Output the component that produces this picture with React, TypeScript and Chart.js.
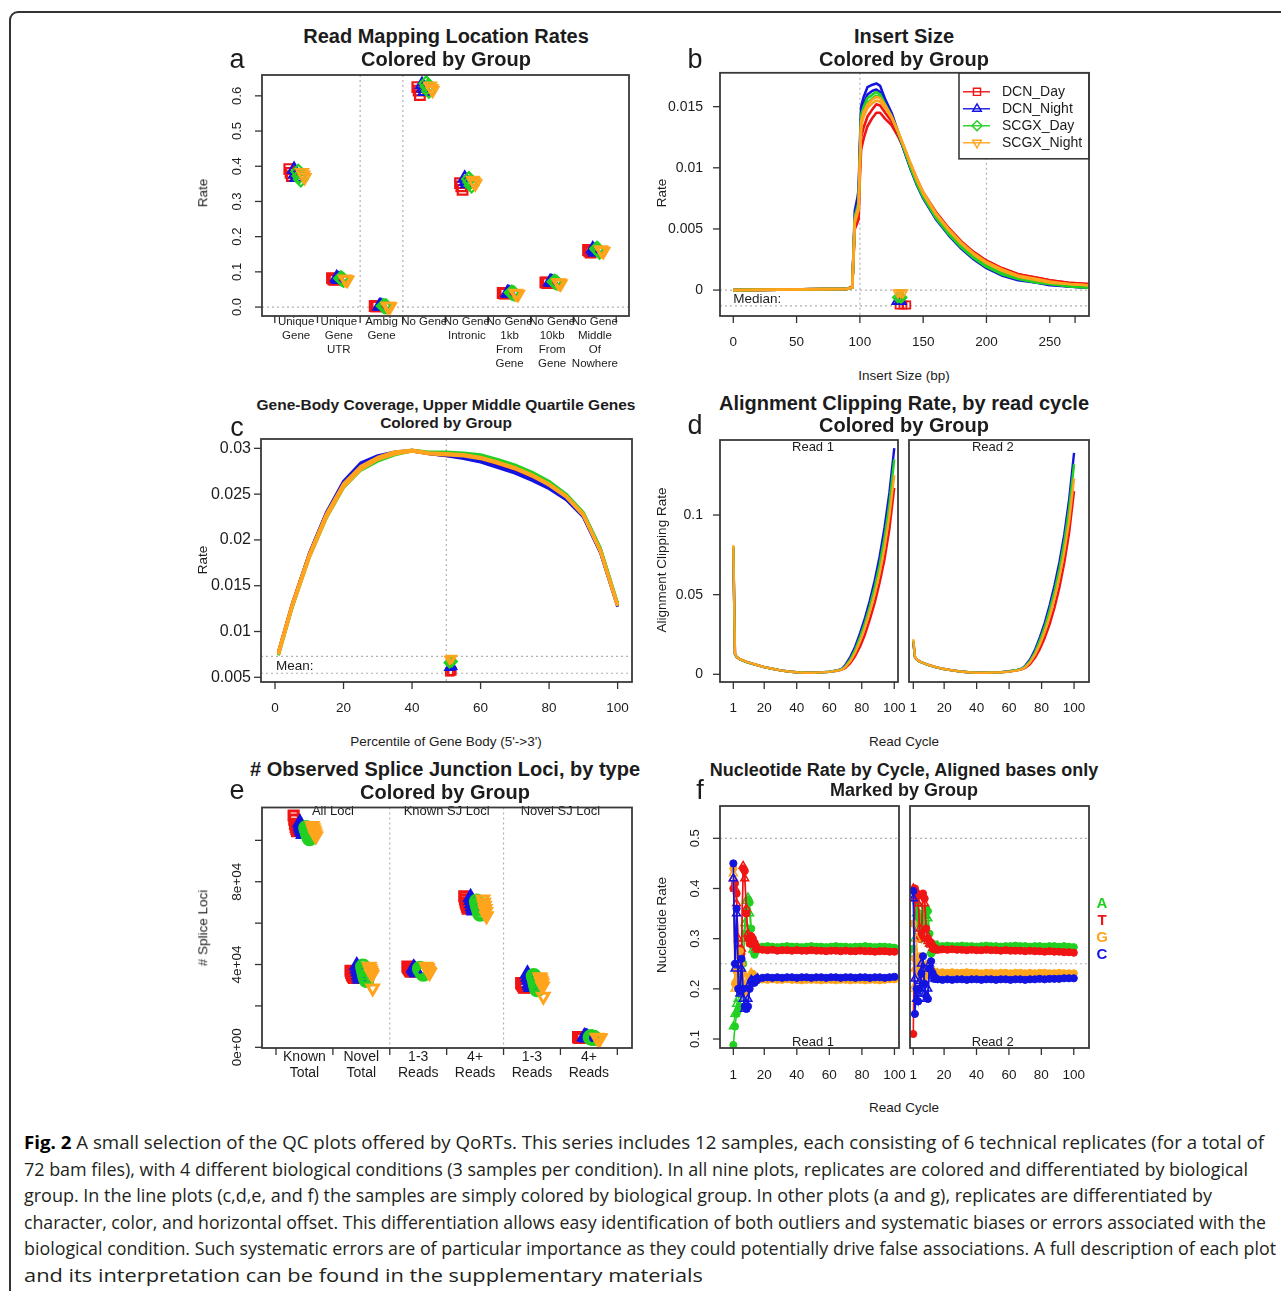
import React, { useEffect, useLayoutEffect, useRef } from "react";
import { Chart, registerables } from "chart.js";

Chart.register(...registerables);

const FONT = "'Liberation Sans', Arial, Helvetica, sans-serif";
const TEXT = "#1c1c1c";
const RED = "#F01414";
const BLUE = "#1414E0";
const GREEN = "#22D022";
const ORANGE = "#FFA41C";

const groupNames = ["DCN_Day", "DCN_Night", "SCGX_Day", "SCGX_Night"];
const groupColors = [RED, BLUE, GREEN, ORANGE];
const groupStyles = ["rect", "triangle", "rectRot", "triangle"];
const groupRotations = [0, 0, 0, 180];

// ---------------- Panel a : read mapping location rates ----------------
const aCategoryLabels = [
  ["Unique", "Gene"],
  ["Unique", "Gene", "UTR"],
  ["Ambig", "Gene"],
  ["No Gene"],
  ["No Gene", "Intronic"],
  ["No Gene", "1kb", "From", "Gene"],
  ["No Gene", "10kb", "From", "Gene"],
  ["No Gene", "Middle", "Of", "Nowhere"],
];
const aDcnDay = [[0.392, 0.381, 0.372], [0.082, 0.079, 0.077], [0.003, 0.002, 0.002], [0.625, 0.615, 0.602], [0.352, 0.343, 0.333], [0.040, 0.039, 0.038], [0.070, 0.069, 0.068], [0.162, 0.158, 0.155]];
const aDcnNight = [[0.391, 0.378, 0.368], [0.083, 0.080, 0.078], [0.003, 0.003, 0.002], [0.632, 0.622, 0.612], [0.366, 0.357, 0.350], [0.041, 0.040, 0.039], [0.072, 0.071, 0.070], [0.165, 0.160, 0.156]];
const aScgxDay = [[0.385, 0.372, 0.362], [0.082, 0.079, 0.077], [0.003, 0.002, 0.002], [0.636, 0.626, 0.614], [0.364, 0.355, 0.345], [0.041, 0.040, 0.038], [0.072, 0.071, 0.069], [0.166, 0.162, 0.157]];
const aScgxNight = [[0.382, 0.375, 0.368], [0.080, 0.078, 0.076], [0.002, 0.002, 0.001], [0.628, 0.621, 0.616], [0.360, 0.355, 0.350], [0.039, 0.038, 0.036], [0.069, 0.068, 0.066], [0.163, 0.160, 0.158]];
const aSampleOffsets = [[-0.16, -0.13, -0.10], [-0.05, -0.02, 0.01], [0.05, 0.08, 0.11], [0.14, 0.17, 0.20]];
const aYTicks = [0, 0.1, 0.2, 0.3, 0.4, 0.5, 0.6];
const aYTickLabels = ["0.0", "0.1", "0.2", "0.3", "0.4", "0.5", "0.6"];
const aXBounds = [-0.5, 0.5, 1.5, 2.5, 3.5, 4.5, 5.5, 6.5, 7.5];
const aXCenters = [0, 1, 2, 3, 4, 5, 6, 7];

// ---------------- Panel b : insert size ----------------
const bInsertSize = [0, 90, 94, 96, 98, 99, 100, 101, 103, 106, 110, 113, 116, 120, 125, 130, 135, 140, 145, 150, 160, 170, 180, 190, 200, 212, 225, 240, 250, 265, 280, 300];
const bDcnDay1 = [0, 0.0001, 0.0003, 0.0050, 0.0055, 0.0058, 0.0092, 0.0115, 0.0124, 0.0134, 0.0141, 0.0145, 0.0145, 0.0140, 0.0135, 0.0126, 0.0115, 0.0102, 0.0090, 0.0079, 0.0063, 0.0050, 0.0039, 0.0031, 0.0024, 0.0018, 0.0013, 0.0010, 0.0008, 0.0006, 0.0005, 0.0004];
const bDcnDay2 = [0, 0.0001, 0.0003, 0.0054, 0.0060, 0.0063, 0.0100, 0.0125, 0.0133, 0.0142, 0.0148, 0.0152, 0.0151, 0.0145, 0.0138, 0.0128, 0.0116, 0.0103, 0.0091, 0.0080, 0.0064, 0.0051, 0.0040, 0.0031, 0.0024, 0.0018, 0.0013, 0.0010, 0.0008, 0.0006, 0.0005, 0.0004];
const bDcnNight1 = [0, 0.0001, 0.0002, 0.0065, 0.0075, 0.0082, 0.0120, 0.0150, 0.0158, 0.0166, 0.0168, 0.0169, 0.0167, 0.0156, 0.0145, 0.0130, 0.0114, 0.0099, 0.0086, 0.0075, 0.0058, 0.0045, 0.0034, 0.0025, 0.0018, 0.0012, 0.0008, 0.0006, 0.0004, 0.0003, 0.0002, 0.0001];
const bDcnNight2 = [0, 0.0001, 0.0002, 0.0060, 0.0070, 0.0076, 0.0114, 0.0144, 0.0152, 0.0160, 0.0163, 0.0164, 0.0162, 0.0153, 0.0143, 0.0129, 0.0114, 0.0100, 0.0087, 0.0076, 0.0059, 0.0046, 0.0035, 0.0026, 0.0019, 0.0013, 0.0009, 0.0006, 0.0005, 0.0003, 0.0002, 0.0001];
const bScgxDay1 = [0, 0.0001, 0.0002, 0.0060, 0.0068, 0.0072, 0.0110, 0.0143, 0.0150, 0.0157, 0.0160, 0.0162, 0.0160, 0.0152, 0.0142, 0.0129, 0.0115, 0.0100, 0.0087, 0.0076, 0.0059, 0.0046, 0.0035, 0.0026, 0.0019, 0.0013, 0.0009, 0.0006, 0.0005, 0.0003, 0.0002, 0.0001];
const bScgxDay2 = [0, 0.0001, 0.0002, 0.0056, 0.0064, 0.0068, 0.0106, 0.0138, 0.0146, 0.0153, 0.0157, 0.0159, 0.0158, 0.0151, 0.0142, 0.0130, 0.0116, 0.0102, 0.0089, 0.0078, 0.0061, 0.0047, 0.0036, 0.0027, 0.0020, 0.0014, 0.0010, 0.0007, 0.0005, 0.0004, 0.0003, 0.0002];
const bScgxNight1 = [0, 0.0001, 0.0002, 0.0058, 0.0065, 0.0068, 0.0105, 0.0138, 0.0146, 0.0152, 0.0156, 0.0158, 0.0157, 0.0151, 0.0142, 0.0130, 0.0117, 0.0103, 0.0090, 0.0079, 0.0062, 0.0049, 0.0038, 0.0029, 0.0022, 0.0016, 0.0011, 0.0008, 0.0006, 0.0005, 0.0004, 0.0003];
const bScgxNight2 = [0, 0.0001, 0.0002, 0.0055, 0.0062, 0.0066, 0.0102, 0.0134, 0.0142, 0.0149, 0.0153, 0.0155, 0.0154, 0.0149, 0.0141, 0.0130, 0.0117, 0.0104, 0.0091, 0.0080, 0.0063, 0.0050, 0.0039, 0.0030, 0.0023, 0.0017, 0.0012, 0.0009, 0.0007, 0.0005, 0.0004, 0.0003];
const bMedianDcnDay = [131, 134, 137];
const bMedianDcnNight = [129, 131, 133];
const bMedianScgxDay = [130, 132, 133];
const bMedianScgxNight = [130, 132, 134];
const bMedianRowY = [-0.00122, -0.00095, -0.0006, -0.00022];
const bYTicks = [0, 0.005, 0.01, 0.015];
const bYTickLabels = ["0", "0.005", "0.01", "0.015"];
const bXTicks = [0, 50, 100, 150, 200, 250, 270];
const bXTickLabels = ["0", "50", "100", "150", "200", "250", ""];

// ---------------- Panel c : gene body coverage ----------------
const cPercentile = [1, 5, 10, 15, 20, 25, 30, 35, 40, 45, 50, 55, 60, 65, 70, 75, 80, 85, 90, 95, 100];
const cDcnDay1 = [0.0075, 0.0127, 0.0182, 0.0226, 0.0260, 0.0280, 0.0290, 0.0294, 0.0297, 0.0294, 0.0292, 0.0290, 0.0287, 0.0281, 0.0275, 0.0267, 0.0258, 0.0245, 0.0226, 0.0187, 0.0128];
const cDcnDay2 = [0.0078, 0.0130, 0.0185, 0.0229, 0.0262, 0.0281, 0.0291, 0.0295, 0.0298, 0.0295, 0.0294, 0.0292, 0.0289, 0.0283, 0.0277, 0.0269, 0.0260, 0.0247, 0.0228, 0.0189, 0.0129];
const cDcnNight1 = [0.0076, 0.0128, 0.0184, 0.0229, 0.0263, 0.0283, 0.0291, 0.0295, 0.0297, 0.0294, 0.0292, 0.0289, 0.0285, 0.0279, 0.0273, 0.0265, 0.0256, 0.0244, 0.0225, 0.0186, 0.0127];
const cDcnNight2 = [0.0077, 0.0129, 0.0185, 0.0230, 0.0264, 0.0284, 0.0292, 0.0296, 0.0298, 0.0295, 0.0293, 0.0290, 0.0286, 0.0280, 0.0274, 0.0266, 0.0257, 0.0245, 0.0226, 0.0187, 0.0128];
const cScgxDay1 = [0.0074, 0.0126, 0.0181, 0.0224, 0.0257, 0.0276, 0.0286, 0.0293, 0.0297, 0.0295, 0.0295, 0.0294, 0.0292, 0.0287, 0.0281, 0.0273, 0.0263, 0.0249, 0.0229, 0.0190, 0.0130];
const cScgxDay2 = [0.0075, 0.0127, 0.0182, 0.0225, 0.0258, 0.0277, 0.0287, 0.0294, 0.0298, 0.0296, 0.0296, 0.0295, 0.0293, 0.0288, 0.0282, 0.0274, 0.0264, 0.0250, 0.0230, 0.0191, 0.0131];
const cScgxNight1 = [0.0077, 0.0129, 0.0184, 0.0228, 0.0261, 0.0280, 0.0290, 0.0296, 0.0298, 0.0295, 0.0294, 0.0293, 0.0290, 0.0285, 0.0279, 0.0271, 0.0261, 0.0248, 0.0228, 0.0188, 0.0129];
const cScgxNight2 = [0.0075, 0.0127, 0.0181, 0.0225, 0.0258, 0.0277, 0.0288, 0.0294, 0.0297, 0.0294, 0.0293, 0.0292, 0.0289, 0.0284, 0.0278, 0.0270, 0.0260, 0.0247, 0.0227, 0.0188, 0.0128];
const cMeanX = [50.9, 51.3, 51.7];
const cMeanDcnDay = [0.00556, 0.00560, 0.00566];
const cMeanDcnNight = [0.00606, 0.00612, 0.00618];
const cMeanScgxDay = [0.00660, 0.00667, 0.00672];
const cMeanScgxNight = [0.00698, 0.00704, 0.00710];
const cYTicks = [0.005, 0.01, 0.015, 0.02, 0.025, 0.03];
const cYTickLabels = ["0.005", "0.01", "0.015", "0.02", "0.025", "0.03"];
const cXTicks = [0, 20, 40, 60, 80, 100];
const cXTickLabels = ["0", "20", "40", "60", "80", "100"];

// ---------------- Panel d : alignment clipping rate ----------------
const dCycles = [1, 2, 3, 5, 10, 15, 20, 25, 30, 35, 40, 45, 50, 55, 60, 65, 68, 70, 73, 76, 79, 82, 85, 88, 91, 94, 97, 100];
const dR1DcnDay = [0.080, 0.013, 0.011, 0.0095, 0.0075, 0.006, 0.0045, 0.0035, 0.0025, 0.0018, 0.0013, 0.0010, 0.0010, 0.0012, 0.0015, 0.0022, 0.0030, 0.0040, 0.0070, 0.0115, 0.0175, 0.0250, 0.0345, 0.0450, 0.0575, 0.0720, 0.0910, 0.1170];
const dR1DcnNight = [0.079, 0.0125, 0.0108, 0.0094, 0.0074, 0.0059, 0.0045, 0.0035, 0.0025, 0.0018, 0.0013, 0.0010, 0.0010, 0.0012, 0.0016, 0.0025, 0.0036, 0.0060, 0.0110, 0.0175, 0.0260, 0.0355, 0.0465, 0.0590, 0.0740, 0.0920, 0.1140, 0.1420];
const dR1ScgxDay = [0.080, 0.0128, 0.0109, 0.0094, 0.0074, 0.0059, 0.0045, 0.0035, 0.0025, 0.0018, 0.0013, 0.0010, 0.0010, 0.0012, 0.0016, 0.0024, 0.0033, 0.0052, 0.0095, 0.0155, 0.0235, 0.0325, 0.0430, 0.0550, 0.0690, 0.0860, 0.1070, 0.1350];
const dR1ScgxNight = [0.081, 0.0129, 0.0110, 0.0095, 0.0075, 0.0060, 0.0045, 0.0035, 0.0025, 0.0018, 0.0013, 0.0010, 0.0010, 0.0012, 0.0015, 0.0023, 0.0031, 0.0046, 0.0083, 0.0137, 0.0210, 0.0295, 0.0395, 0.0505, 0.0635, 0.0795, 0.0995, 0.1250];
const dR2DcnDay = [0.021, 0.011, 0.0095, 0.0080, 0.0060, 0.0045, 0.0033, 0.0025, 0.0018, 0.0013, 0.0010, 0.0010, 0.0011, 0.0013, 0.0017, 0.0025, 0.0032, 0.0040, 0.0065, 0.0105, 0.0160, 0.0230, 0.0315, 0.0420, 0.0545, 0.0700, 0.0890, 0.1150];
const dR2DcnNight = [0.020, 0.0108, 0.0094, 0.0079, 0.0059, 0.0044, 0.0033, 0.0025, 0.0018, 0.0013, 0.0010, 0.0010, 0.0011, 0.0014, 0.0019, 0.0028, 0.0037, 0.0055, 0.0095, 0.0155, 0.0235, 0.0325, 0.0435, 0.0560, 0.0705, 0.0880, 0.1100, 0.1390];
const dR2ScgxDay = [0.021, 0.0109, 0.0094, 0.0079, 0.0059, 0.0044, 0.0033, 0.0025, 0.0018, 0.0013, 0.0010, 0.0010, 0.0011, 0.0013, 0.0018, 0.0027, 0.0035, 0.0050, 0.0085, 0.0140, 0.0215, 0.0300, 0.0405, 0.0525, 0.0665, 0.0835, 0.1045, 0.1320];
const dR2ScgxNight = [0.022, 0.0110, 0.0095, 0.0080, 0.0060, 0.0045, 0.0033, 0.0025, 0.0018, 0.0013, 0.0010, 0.0010, 0.0011, 0.0013, 0.0017, 0.0025, 0.0033, 0.0045, 0.0076, 0.0125, 0.0190, 0.0270, 0.0365, 0.0480, 0.0610, 0.0770, 0.0965, 0.1230];
const dYTicks = [0, 0.05, 0.1];
const dYTickLabels = ["0", "0.05", "0.1"];
const cycleTicks = [1, 20, 40, 60, 80, 100];
const cycleTickLabels = ["1", "20", "40", "60", "80", "100"];

// ---------------- Panel e : splice junction loci ----------------
const eCategoryLabels = [["Known", "Total"], ["Novel", "Total"], ["1-3", "Reads"], ["4+", "Reads"], ["1-3", "Reads"], ["4+", "Reads"]];
const eSectionLabels = ["All Loci", "Known SJ Loci", "Novel SJ Loci"];
const eSectionPos = [0.5, 2.5, 4.5];
const eDcnDay = [[112000, 110000, 108000, 106500, 105500, 104500], [37000, 36000, 35000, 34500, 34000, 33500], [39000, 38500, 38000, 37500, 37000, 36500], [73000, 71500, 70000, 69000, 68000, 67000], [31000, 30500, 30000, 29500, 29000, 28800], [4900, 4800, 4700, 4700, 4600, 4600]];
const eDcnNight = [[108500, 107000, 106000, 105000, 104000, 103000], [39500, 38000, 36500, 35000, 34000, 33000], [38500, 38000, 37500, 37000, 36500, 36000], [72500, 71000, 69500, 68000, 67000, 66000], [35500, 34000, 32500, 31000, 30000, 29000], [5200, 5000, 4900, 4800, 4700, 4600]];
const eScgxDay = [[106000, 105000, 104000, 103000, 102000, 101000], [39000, 37500, 36000, 34500, 33500, 32500], [38000, 37500, 37000, 36500, 36000, 35500], [70500, 69000, 68000, 67000, 65500, 64500], [34500, 33500, 32000, 30500, 29000, 28000], [4800, 4700, 4700, 4600, 4600, 4500]];
const eScgxNight = [[107000, 106000, 105000, 104000, 103000, 102000], [39000, 38000, 37000, 36000, 35000, 28500], [39000, 38500, 38000, 37000, 36500, 36000], [71500, 70000, 68500, 67000, 65500, 63500], [34000, 33000, 32000, 31000, 29500, 24500], [4700, 4600, 4600, 4500, 4500, 4400]];
const eGroupOffsets = [-0.16, -0.05, 0.06, 0.17];
const eReplicateOffsets = [-0.03, -0.018, -0.006, 0.006, 0.018, 0.03];
const eYTicks = [0, 20000, 40000, 60000, 80000, 100000];
const eYTickLabels = ["0e+00", "", "4e+04", "", "8e+04", ""];
const eXBounds = [-0.5, 0.5, 1.5, 2.5, 3.5, 4.5, 5.5];
const eXCenters = [0, 1, 2, 3, 4, 5];

// ---------------- Panel f : nucleotide rate by cycle ----------------
const fCycles = [1, 2, 3, 4, 5, 6, 7, 8, 9, 10, 11, 12, 13, 14, 15, 16, 19, 22, 25, 28, 31, 34, 37, 40, 43, 46, 49, 52, 55, 58, 61, 64, 67, 70, 73, 76, 79, 82, 85, 88, 91, 94, 97, 100];
const fR1EarlyA = [0.088, 0.125, 0.150, 0.158, 0.165, 0.200, 0.250, 0.310, 0.355, 0.378, 0.372, 0.320, 0.285, 0.268, 0.276, 0.281];
const fR1EarlyT = [0.400, 0.410, 0.390, 0.280, 0.250, 0.270, 0.440, 0.435, 0.350, 0.300, 0.290, 0.305, 0.300, 0.292, 0.285, 0.280];
const fR1EarlyG = [0.440, 0.210, 0.235, 0.270, 0.275, 0.250, 0.230, 0.200, 0.195, 0.205, 0.220, 0.228, 0.230, 0.224, 0.220, 0.218];
const fR1EarlyC = [0.450, 0.250, 0.360, 0.200, 0.195, 0.260, 0.200, 0.165, 0.160, 0.165, 0.200, 0.215, 0.218, 0.212, 0.216, 0.220];
const fR1AltA = [0.125, 0.150, 0.170, 0.180, 0.230, 0.260, 0.300, 0.330, 0.375, 0.382, 0.350, 0.300, 0.278, 0.275, 0.280, 0.284];
const fR1AltT = [0.420, 0.400, 0.370, 0.300, 0.270, 0.280, 0.445, 0.420, 0.360, 0.310, 0.300, 0.302, 0.296, 0.288, 0.282, 0.278];
const fR1AltG = [0.430, 0.200, 0.220, 0.240, 0.265, 0.240, 0.210, 0.190, 0.200, 0.215, 0.225, 0.232, 0.226, 0.222, 0.219, 0.217];
const fR1AltC = [0.420, 0.240, 0.350, 0.250, 0.190, 0.240, 0.180, 0.160, 0.170, 0.180, 0.210, 0.218, 0.214, 0.216, 0.219, 0.221];
const fR1SteadyA = [0.284, 0.285, 0.284, 0.283, 0.284, 0.285, 0.284, 0.284, 0.283, 0.284, 0.285, 0.284, 0.284, 0.283, 0.284, 0.285, 0.284, 0.284, 0.283, 0.284, 0.284, 0.285, 0.284, 0.283, 0.284, 0.284, 0.283, 0.282];
const fR1SteadyT = [0.278, 0.277, 0.278, 0.276, 0.277, 0.277, 0.276, 0.277, 0.276, 0.276, 0.277, 0.276, 0.276, 0.275, 0.276, 0.276, 0.275, 0.276, 0.275, 0.275, 0.276, 0.275, 0.275, 0.274, 0.275, 0.275, 0.274, 0.274];
const fR1SteadyG = [0.219, 0.218, 0.219, 0.218, 0.218, 0.219, 0.218, 0.218, 0.217, 0.218, 0.218, 0.218, 0.217, 0.218, 0.218, 0.217, 0.218, 0.218, 0.217, 0.218, 0.218, 0.217, 0.218, 0.218, 0.217, 0.218, 0.219, 0.219];
const fR1SteadyC = [0.222, 0.223, 0.222, 0.223, 0.222, 0.223, 0.223, 0.222, 0.223, 0.223, 0.222, 0.223, 0.223, 0.222, 0.223, 0.223, 0.222, 0.223, 0.223, 0.222, 0.223, 0.223, 0.222, 0.223, 0.223, 0.222, 0.223, 0.224];
const fR2EarlyA = [0.280, 0.330, 0.370, 0.345, 0.340, 0.300, 0.320, 0.350, 0.360, 0.355, 0.310, 0.270, 0.275, 0.282, 0.285, 0.285];
const fR2EarlyT = [0.110, 0.400, 0.390, 0.385, 0.300, 0.310, 0.390, 0.380, 0.320, 0.300, 0.295, 0.292, 0.285, 0.280, 0.279, 0.278];
const fR2EarlyG = [0.330, 0.260, 0.250, 0.230, 0.265, 0.220, 0.210, 0.225, 0.245, 0.250, 0.240, 0.236, 0.234, 0.233, 0.232, 0.232];
const fR2EarlyC = [0.395, 0.150, 0.200, 0.175, 0.200, 0.230, 0.265, 0.210, 0.185, 0.180, 0.240, 0.255, 0.230, 0.222, 0.220, 0.219];
const fR2AltA = [0.270, 0.300, 0.350, 0.330, 0.360, 0.320, 0.300, 0.330, 0.345, 0.340, 0.290, 0.275, 0.280, 0.284, 0.286, 0.286];
const fR2AltT = [0.400, 0.380, 0.395, 0.370, 0.320, 0.300, 0.385, 0.370, 0.310, 0.295, 0.290, 0.288, 0.282, 0.279, 0.278, 0.277];
const fR2AltG = [0.200, 0.240, 0.300, 0.250, 0.240, 0.215, 0.220, 0.240, 0.235, 0.245, 0.238, 0.235, 0.233, 0.232, 0.231, 0.231];
const fR2AltC = [0.380, 0.220, 0.180, 0.190, 0.215, 0.250, 0.240, 0.190, 0.180, 0.200, 0.250, 0.240, 0.225, 0.220, 0.219, 0.218];
const fR2SteadyA = [0.285, 0.286, 0.285, 0.285, 0.286, 0.285, 0.285, 0.284, 0.285, 0.286, 0.285, 0.285, 0.284, 0.285, 0.285, 0.286, 0.285, 0.285, 0.284, 0.285, 0.285, 0.284, 0.285, 0.285, 0.284, 0.285, 0.284, 0.283];
const fR2SteadyT = [0.279, 0.278, 0.279, 0.278, 0.278, 0.277, 0.278, 0.277, 0.277, 0.278, 0.277, 0.277, 0.276, 0.277, 0.276, 0.276, 0.276, 0.275, 0.276, 0.275, 0.275, 0.274, 0.275, 0.274, 0.274, 0.273, 0.273, 0.272];
const fR2SteadyG = [0.233, 0.232, 0.233, 0.232, 0.232, 0.233, 0.232, 0.232, 0.231, 0.232, 0.232, 0.231, 0.232, 0.232, 0.231, 0.232, 0.232, 0.231, 0.232, 0.231, 0.232, 0.232, 0.231, 0.231, 0.232, 0.231, 0.231, 0.231];
const fR2SteadyC = [0.218, 0.219, 0.218, 0.219, 0.219, 0.218, 0.219, 0.219, 0.218, 0.219, 0.219, 0.218, 0.219, 0.219, 0.218, 0.219, 0.219, 0.218, 0.219, 0.219, 0.220, 0.219, 0.220, 0.220, 0.220, 0.221, 0.221, 0.221];
const fNucleotides = ["A", "T", "G", "C"];
const fNucleotideColors = [GREEN, RED, ORANGE, BLUE];
const fYTicks = [0.1, 0.2, 0.3, 0.4, 0.5];
const fYTickLabels = ["0.1", "0.2", "0.3", "0.4", "0.5"];

// ---------------- Caption ----------------
const captionLead = "Fig. 2";
const captionLines = [
  " A small selection of the QC plots offered by QoRTs. This series includes 12 samples, each consisting of 6 technical replicates (for a total of",
  "72 bam files), with 4 different biological conditions (3 samples per condition). In all nine plots, replicates are colored and differentiated by biological",
  "group. In the line plots (c,d,e, and f) the samples are simply colored by biological group. In other plots (a and g), replicates are differentiated by",
  "character, color, and horizontal offset. This differentiation allows easy identification of both outliers and systematic biases or errors associated with the",
  "biological condition. Such systematic errors are of particular importance as they could potentially drive false associations. A full description of each plot",
  "and its interpretation can be found in the supplementary materials",
];
const captionRight = [1264, 1248, 1212, 1266, 1276, 703];
const captionY = [1142, 1169, 1195, 1222, 1248, 1275];
const captionLeft = 24;

// ---------------- helpers ----------------
function drawMarker(ctx: any, style: string, x: number, y: number, r: number, rot: number, color: string, lw: number) {
  ctx.save();
  ctx.translate(x, y);
  ctx.rotate((rot * Math.PI) / 180);
  ctx.beginPath();
  if (style === "rect") {
    const s = r * Math.SQRT1_2;
    ctx.rect(-s, -s, 2 * s, 2 * s);
  } else if (style === "triangle") {
    ctx.moveTo(0, -r);
    ctx.lineTo(r * 0.866, r * 0.5);
    ctx.lineTo(-r * 0.866, r * 0.5);
    ctx.closePath();
  } else if (style === "rectRot") {
    ctx.moveTo(0, -r);
    ctx.lineTo(r, 0);
    ctx.lineTo(0, r);
    ctx.lineTo(-r, 0);
    ctx.closePath();
  } else {
    ctx.arc(0, 0, r, 0, Math.PI * 2);
  }
  ctx.strokeStyle = color;
  ctx.lineWidth = lw;
  ctx.stroke();
  ctx.restore();
}

function makeRPlot(cfg: any) {
  return {
    id: "rPlot",
    beforeDatasetsDraw(chart: any) {
      const ctx = chart.ctx, ca = chart.chartArea, xs = chart.scales.x, ys = chart.scales.y;
      ctx.save();
      ctx.strokeStyle = "#b0b0b0";
      ctx.lineWidth = 1.2;
      ctx.setLineDash([2, 3]);
      (cfg.vDotted || []).forEach((v: number) => {
        const p = xs.getPixelForValue(v);
        ctx.beginPath(); ctx.moveTo(p, ca.top); ctx.lineTo(p, ca.bottom); ctx.stroke();
      });
      (cfg.hDotted || []).forEach((v: number) => {
        const p = ys.getPixelForValue(v);
        ctx.beginPath(); ctx.moveTo(ca.left, p); ctx.lineTo(ca.right, p); ctx.stroke();
      });
      ctx.restore();
    },
    afterDraw(chart: any) {
      const ctx = chart.ctx, ca = chart.chartArea, xs = chart.scales.x, ys = chart.scales.y;
      ctx.save();
      ctx.fillStyle = TEXT;
      ctx.textBaseline = "middle";
      (cfg.texts || []).forEach((t: any) => {
        ctx.font = `${t.size}px ${FONT}`;
        ctx.textAlign = t.align || "center";
        ctx.fillText(t.text, xs.getPixelForValue(t.x), ys.getPixelForValue(t.y));
      });
      if (cfg.legend) {
        const L = cfg.legend;
        const lx = ca.right - L.width, ly = ca.top;
        ctx.fillStyle = "#ffffff";
        ctx.fillRect(lx, ly, L.width, L.height);
        ctx.strokeStyle = "#3a3a3a";
        ctx.lineWidth = 1.6;
        ctx.strokeRect(lx, ly, L.width, L.height);
        L.items.forEach((it: any, i: number) => {
          const y = ly + L.firstRow + i * L.rowH;
          ctx.strokeStyle = it.color;
          ctx.lineWidth = 1.4;
          ctx.beginPath(); ctx.moveTo(lx + 4, y); ctx.lineTo(lx + 31, y); ctx.stroke();
          drawMarker(ctx, it.style, lx + 18, y, 5, it.rotation, it.color, 1.4);
          ctx.fillStyle = TEXT;
          ctx.font = `${L.font}px ${FONT}`;
          ctx.textAlign = "left";
          ctx.fillText(it.label, lx + 43, y);
        });
      }
      ctx.strokeStyle = "#3a3a3a";
      ctx.lineWidth = 1.8;
      ctx.strokeRect(ca.left, ca.top, ca.right - ca.left, ca.bottom - ca.top);
      ctx.strokeStyle = "#333333";
      ctx.lineWidth = 1.3;
      cfg.xTicks.forEach((v: number) => {
        const p = xs.getPixelForValue(v);
        ctx.beginPath(); ctx.moveTo(p, ca.bottom); ctx.lineTo(p, ca.bottom + 7); ctx.stroke();
      });
      ctx.fillStyle = TEXT;
      ctx.font = `${cfg.xFont}px ${FONT}`;
      ctx.textAlign = "center";
      ctx.textBaseline = "middle";
      if (cfg.xLabels) {
        cfg.xLabels.forEach((lines: string[], i: number) => {
          const p = xs.getPixelForValue(cfg.xLabelPos[i]);
          lines.forEach((t, j) => ctx.fillText(t, p, ca.bottom + cfg.xLabelDy + j * cfg.xLineH));
        });
      } else if (cfg.xTickLabels) {
        cfg.xTicks.forEach((v: number, i: number) => {
          ctx.fillText(cfg.xTickLabels[i], xs.getPixelForValue(v), ca.bottom + cfg.xLabelDy);
        });
      }
      if (cfg.yTicks) {
        cfg.yTicks.forEach((v: number, i: number) => {
          const p = ys.getPixelForValue(v);
          ctx.strokeStyle = "#333333";
          ctx.beginPath(); ctx.moveTo(ca.left, p); ctx.lineTo(ca.left - 7, p); ctx.stroke();
          const lab = cfg.yTickLabels[i];
          if (!lab) return;
          ctx.font = `${cfg.yFont}px ${FONT}`;
          ctx.fillStyle = TEXT;
          ctx.textBaseline = "middle";
          if (cfg.yRotate) {
            ctx.save();
            ctx.translate(ca.left - cfg.yLabelDx, p);
            ctx.rotate(-Math.PI / 2);
            ctx.textAlign = "center";
            ctx.fillText(lab, 0, 0);
            ctx.restore();
          } else {
            ctx.textAlign = "right";
            ctx.fillText(lab, ca.left - cfg.yLabelDx, p);
          }
        });
      }
      ctx.restore();
    },
  };
}

function baseOptions(pad: any, xRange: number[], yRange: number[]) {
  return {
    responsive: false,
    maintainAspectRatio: false,
    animation: false,
    devicePixelRatio: 1,
    events: [],
    layout: { padding: pad },
    plugins: { legend: { display: false }, tooltip: { enabled: false }, title: { display: false } },
    scales: {
      x: { type: "linear", display: false, min: xRange[0], max: xRange[1] },
      y: { type: "linear", display: false, min: yRange[0], max: yRange[1] },
    },
  };
}

function padOf(cv: any, box: any) {
  return { left: box.l - cv.x, top: box.t - cv.y, right: cv.x + cv.w - box.r, bottom: cv.y + cv.h - box.b };
}

// Chart.js paints the first dataset on top; reverse so later series are painted over earlier ones (like R).
function paintOrder(datasets: any[]) {
  return datasets.slice().reverse();
}

function lineSet(xs: number[], ys: number[], color: string, width: number) {
  return {
    data: ys.map((v, i) => ({ x: xs[i], y: v })),
    showLine: true,
    borderColor: color,
    borderWidth: width,
    borderJoinStyle: "round",
    pointRadius: 0,
    tension: 0,
  };
}

function markerSet(points: any[], g: number, radius: number, lw: number, style?: string) {
  return {
    data: points,
    showLine: false,
    pointStyle: style || groupStyles[g],
    pointRotation: groupRotations[g],
    pointRadius: radius,
    pointBorderWidth: lw,
    pointBorderColor: groupColors[g],
    pointBackgroundColor: "rgba(0,0,0,0)",
  };
}

// ---------------- layouts ----------------
const cvA = { x: 190, y: 66, w: 450, h: 314 };
const boxA = { l: 262, t: 73, r: 629, b: 316 };
const cvB = { x: 650, y: 66, w: 450, h: 294 };
const boxB = { l: 720, t: 72, r: 1089, b: 316 };
const cvC = { x: 190, y: 432, w: 455, h: 293 };
const boxC = { l: 261, t: 439, r: 632, b: 682 };
const cvD1 = { x: 650, y: 432, w: 260, h: 293 };
const boxD1 = { l: 720, t: 440, r: 898, b: 682 };
const cvD2 = { x: 900, y: 432, w: 200, h: 293 };
const boxD2 = { l: 909, t: 440, r: 1089, b: 682 };
const cvE = { x: 190, y: 798, w: 455, h: 292 };
const boxE = { l: 262, t: 806, r: 632, b: 1048 };
const cvF1 = { x: 650, y: 798, w: 260, h: 292 };
const boxF1 = { l: 720, t: 806, r: 899, b: 1048 };
const cvF2 = { x: 900, y: 798, w: 200, h: 292 };
const boxF2 = { l: 910, t: 806, r: 1089, b: 1048 };

// ---------------- chart configs ----------------
function configA() {
  const sets = [aDcnDay, aDcnNight, aScgxDay, aScgxNight];
  const datasets = sets.map((set, g) =>
    markerSet(set.flatMap((vals, c) => vals.map((v, s) => ({ x: aXCenters[c] + aSampleOffsets[g][s], y: v }))), g, 6.8, 2.2)
  );
  return {
    type: "scatter",
    data: { datasets: paintOrder(datasets) },
    options: baseOptions(padOf(cvA, boxA), [-0.8, 7.8], [-0.0254, 0.6592]),
    plugins: [makeRPlot({
      xTicks: aXBounds, xLabels: aCategoryLabels, xLabelPos: aXCenters, xLabelDy: 6, xLineH: 13.8, xFont: 11.5,
      yTicks: aYTicks, yTickLabels: aYTickLabels, yRotate: true, yLabelDx: 25, yFont: 13,
      vDotted: [1.5, 2.5], hDotted: [0],
    })],
  };
}

function configB() {
  const lines = [
    [bDcnDay1, 0], [bDcnDay2, 0], [bDcnNight1, 1], [bDcnNight2, 1],
    [bScgxDay1, 2], [bScgxDay2, 2], [bScgxNight1, 3], [bScgxNight2, 3],
  ] as any[];
  const datasets: any[] = lines.map(([vals, g]) => lineSet(bInsertSize, vals, groupColors[g], 2.6));
  const medians = [bMedianDcnDay, bMedianDcnNight, bMedianScgxDay, bMedianScgxNight];
  medians.forEach((m, g) => datasets.push(markerSet(m.map((x) => ({ x, y: bMedianRowY[g] })), g, 5, 1.8)));
  return {
    type: "scatter",
    data: { datasets: paintOrder(datasets) },
    options: baseOptions(padOf(cvB, boxB), [-10.5, 281], [-0.00212, 0.01777]),
    plugins: [makeRPlot({
      xTicks: bXTicks, xTickLabels: bXTickLabels, xLabelDy: 26, xFont: 13.5,
      yTicks: bYTicks, yTickLabels: bYTickLabels, yRotate: false, yLabelDx: 17, yFont: 14,
      vDotted: [100, 200], hDotted: [0, -0.0013],
      texts: [{ x: 0, y: -0.00073, text: "Median:", size: 13.5, align: "left" }],
      legend: {
        items: groupNames.map((n, i) => ({ label: n, color: groupColors[i], style: groupStyles[i], rotation: groupRotations[i] })),
        width: 130, height: 86, firstRow: 19, rowH: 17, font: 14,
      },
    })],
  };
}

function configC() {
  const lines = [
    [cDcnDay1, 0, 3], [cDcnDay2, 0, 3], [cDcnNight1, 1, 3], [cDcnNight2, 1, 3],
    [cScgxDay1, 2, 3], [cScgxDay2, 2, 3], [cScgxNight1, 3, 3.5], [cScgxNight2, 3, 3.5],
  ] as any[];
  const datasets: any[] = lines.map(([vals, g, w]) => lineSet(cPercentile, vals, groupColors[g], w));
  const means = [cMeanDcnDay, cMeanDcnNight, cMeanScgxDay, cMeanScgxNight];
  means.forEach((m, g) => datasets.push(markerSet(m.map((y, i) => ({ x: cMeanX[i], y })), g, 5, 1.8)));
  return {
    type: "scatter",
    data: { datasets: paintOrder(datasets) },
    options: baseOptions(padOf(cvC, boxC), [-4.09, 104.2], [0.004487, 0.03102]),
    plugins: [makeRPlot({
      xTicks: cXTicks, xTickLabels: cXTickLabels, xLabelDy: 26, xFont: 13.5,
      yTicks: cYTicks, yTickLabels: cYTickLabels, yRotate: false, yLabelDx: 10, yFont: 16,
      vDotted: [50], hDotted: [0.00729, 0.00544],
      texts: [{ x: 0.3, y: 0.0062, text: "Mean:", size: 13.5, align: "left" }],
    })],
  };
}

function configD(read: number) {
  const sets = read === 1 ? [dR1DcnDay, dR1DcnNight, dR1ScgxDay, dR1ScgxNight] : [dR2DcnDay, dR2DcnNight, dR2ScgxDay, dR2ScgxNight];
  const datasets = sets.map((vals, g) => lineSet(dCycles, vals, groupColors[g], 2.4));
  const first = read === 1;
  return {
    type: "scatter",
    data: { datasets: paintOrder(datasets) },
    options: baseOptions(first ? padOf(cvD1, boxD1) : padOf(cvD2, boxD2), first ? [-7.2, 102.3] : [-1.65, 109.2], [-0.00483, 0.1471]),
    plugins: [makeRPlot({
      xTicks: cycleTicks, xTickLabels: cycleTickLabels, xLabelDy: 26, xFont: 13.5,
      yTicks: first ? dYTicks : null, yTickLabels: dYTickLabels, yRotate: false, yLabelDx: 17, yFont: 14,
      texts: [{ x: 50, y: 0.1427, text: first ? "Read 1" : "Read 2", size: 13 }],
    })],
  };
}

function configE() {
  const sets = [eDcnDay, eDcnNight, eScgxDay, eScgxNight];
  const styles = ["rect", "triangle", "circle", "triangle"];
  const datasets = sets.map((set, g) =>
    markerSet(set.flatMap((vals, c) => vals.map((v, s) => ({ x: eXCenters[c] + eGroupOffsets[g] + eReplicateOffsets[s], y: v }))), g, 6.5, 3, styles[g])
  );
  return {
    type: "scatter",
    data: { datasets: paintOrder(datasets) },
    options: baseOptions(padOf(cvE, boxE), [-0.746, 5.758], [-336, 115870]),
    plugins: [makeRPlot({
      xTicks: eXBounds, xLabels: eCategoryLabels, xLabelPos: eXCenters, xLabelDy: 9, xLineH: 16.5, xFont: 14,
      yTicks: eYTicks, yTickLabels: eYTickLabels, yRotate: true, yLabelDx: 25, yFont: 13.5,
      vDotted: [1.5, 3.5],
      texts: eSectionLabels.map((t, i) => ({ x: eSectionPos[i], y: 113900, text: t, size: 13 })),
    })],
  };
}

function configF(read: number) {
  const first = read === 1;
  const early = first ? [fR1EarlyA, fR1EarlyT, fR1EarlyG, fR1EarlyC] : [fR2EarlyA, fR2EarlyT, fR2EarlyG, fR2EarlyC];
  const alt = first ? [fR1AltA, fR1AltT, fR1AltG, fR1AltC] : [fR2AltA, fR2AltT, fR2AltG, fR2AltC];
  const steady = first ? [fR1SteadyA, fR1SteadyT, fR1SteadyG, fR1SteadyC] : [fR2SteadyA, fR2SteadyT, fR2SteadyG, fR2SteadyC];
  const datasets: any[] = [];
  fNucleotideColors.forEach((color, i) => {
    datasets.push({
      data: alt[i].map((v, k) => ({ x: fCycles[k], y: v })),
      showLine: true, borderColor: color, borderWidth: 1.2, tension: 0,
      pointStyle: "triangle", pointRadius: 4.5, pointBorderWidth: 1.5,
      pointBorderColor: color, pointBackgroundColor: "rgba(0,0,0,0)",
    });
    const vals = early[i].concat(steady[i]);
    datasets.push({
      data: vals.map((v, k) => ({ x: fCycles[k], y: v })),
      showLine: true, borderColor: color, borderWidth: 1.6, tension: 0,
      pointStyle: "circle", pointRadius: 3.6, pointBorderWidth: 1,
      pointBorderColor: color, pointBackgroundColor: color,
    });
  });
  return {
    type: "scatter",
    data: { datasets: paintOrder(datasets) },
    options: baseOptions(first ? padOf(cvF1, boxF1) : padOf(cvF2, boxF2), first ? [-7.2, 102.8] : [-1.03, 109.4], [0.0821, 0.5644]),
    plugins: [makeRPlot({
      xTicks: cycleTicks, xTickLabels: cycleTickLabels, xLabelDy: 27, xFont: 13.5,
      yTicks: first ? fYTicks : null, yTickLabels: fYTickLabels, yRotate: true, yLabelDx: 25, yFont: 13,
      hDotted: [0.25, 0.5],
      texts: [{ x: 50, y: 0.0934, text: first ? "Read 1" : "Read 2", size: 13 }],
    })],
  };
}

// ---------------- components ----------------
function RChart({ cv, make }: any) {
  const ref = useRef<HTMLCanvasElement>(null);
  useEffect(() => {
    const chart = new Chart(ref.current as any, make());
    return () => chart.destroy();
  }, []);
  return (
    <canvas
      ref={ref}
      width={cv.w}
      height={cv.h}
      style={{ position: "absolute", left: cv.x, top: cv.y, width: cv.w, height: cv.h }}
    />
  );
}

function Label({ x, y, text, size, bold, rotate, color }: any) {
  return (
    <div
      style={{
        position: "absolute", left: x, top: y,
        transform: `translate(-50%, -50%)${rotate ? " rotate(-90deg)" : ""}`,
        fontFamily: FONT, fontSize: size, fontWeight: bold ? 700 : 400,
        lineHeight: 1, whiteSpace: "nowrap", color: color || TEXT,
      }}
    >
      {text}
    </div>
  );
}

function CaptionLine({ idx }: any) {
  const ref = useRef<HTMLDivElement>(null);
  useLayoutEffect(() => {
    const el = ref.current as HTMLDivElement;
    el.style.transform = "translateY(-50%)";
    const w = el.getBoundingClientRect().width;
    const k = (captionRight[idx] - captionLeft) / w;
    el.style.transform = `translateY(-50%) scaleX(${k})`;
  }, []);
  return (
    <div
      ref={ref}
      style={{
        position: "absolute", left: captionLeft, top: captionY[idx],
        fontFamily: "'Open Sans', sans-serif", fontSize: 17.5,
        lineHeight: 1.2, whiteSpace: "nowrap", color: "#231f20", transformOrigin: "left center",
      }}
    >
      {idx === 0 ? <b style={{ color: "#000" }}>{captionLead}</b> : null}
      {captionLines[idx]}
    </div>
  );
}

const htmlLabels = [
  { x: 446, y: 36, text: "Read Mapping Location Rates", size: 20, bold: true },
  { x: 446, y: 59, text: "Colored by Group", size: 20, bold: true },
  { x: 237, y: 59, text: "a", size: 27 },
  { x: 203, y: 193, text: "Rate", size: 13.5, rotate: true },
  { x: 904, y: 36, text: "Insert Size", size: 20, bold: true },
  { x: 904, y: 59, text: "Colored by Group", size: 20, bold: true },
  { x: 695, y: 59, text: "b", size: 27 },
  { x: 662, y: 193, text: "Rate", size: 13.5, rotate: true },
  { x: 904, y: 376, text: "Insert Size (bp)", size: 13.5 },
  { x: 446, y: 405, text: "Gene-Body Coverage, Upper Middle Quartile Genes", size: 15.5, bold: true },
  { x: 446, y: 423, text: "Colored by Group", size: 15.5, bold: true },
  { x: 237, y: 427, text: "c", size: 27 },
  { x: 203, y: 560, text: "Rate", size: 13.5, rotate: true },
  { x: 446, y: 742, text: "Percentile of Gene Body (5'->3')", size: 13.5 },
  { x: 904, y: 403, text: "Alignment Clipping Rate, by read cycle", size: 20, bold: true },
  { x: 904, y: 425, text: "Colored by Group", size: 20, bold: true },
  { x: 695, y: 425, text: "d", size: 27 },
  { x: 662, y: 560, text: "Alignment Clipping Rate", size: 13.5, rotate: true },
  { x: 904, y: 742, text: "Read Cycle", size: 13.5 },
  { x: 445, y: 769, text: "# Observed Splice Junction Loci, by type", size: 20, bold: true },
  { x: 445, y: 792, text: "Colored by Group", size: 20, bold: true },
  { x: 237, y: 790, text: "e", size: 27 },
  { x: 203, y: 928, text: "# Splice Loci", size: 13.5, rotate: true },
  { x: 904, y: 770, text: "Nucleotide Rate by Cycle, Aligned bases only", size: 18, bold: true },
  { x: 904, y: 790, text: "Marked by Group", size: 18, bold: true },
  { x: 700, y: 790, text: "f", size: 27 },
  { x: 662, y: 925, text: "Nucleotide Rate", size: 13.5, rotate: true },
  { x: 904, y: 1108, text: "Read Cycle", size: 13.5 },
];

export default function App() {
  return (
    <div style={{ position: "absolute", left: 0, top: 0, width: 1281, height: 1291, overflow: "hidden", background: "#ffffff" }}>
      <div
        style={{
          position: "absolute", left: 9, top: 11, width: 1400, height: 1400,
          border: "2px solid #333", borderRadius: 9, boxSizing: "border-box",
        }}
      />
      <RChart cv={cvA} make={configA} />
      <RChart cv={cvB} make={configB} />
      <RChart cv={cvC} make={configC} />
      <RChart cv={cvD1} make={() => configD(1)} />
      <RChart cv={cvD2} make={() => configD(2)} />
      <RChart cv={cvE} make={configE} />
      <RChart cv={cvF1} make={() => configF(1)} />
      <RChart cv={cvF2} make={() => configF(2)} />
      {htmlLabels.map((l, i) => (
        <Label key={i} {...l} />
      ))}
      {fNucleotides.map((n, i) => (
        <Label key={"n" + i} x={1102} y={902 + i * 17} text={n} size={15} bold color={fNucleotideColors[i]} />
      ))}
      {captionLines.map((_, i) => (
        <CaptionLine key={"c" + i} idx={i} />
      ))}
    </div>
  );
}
